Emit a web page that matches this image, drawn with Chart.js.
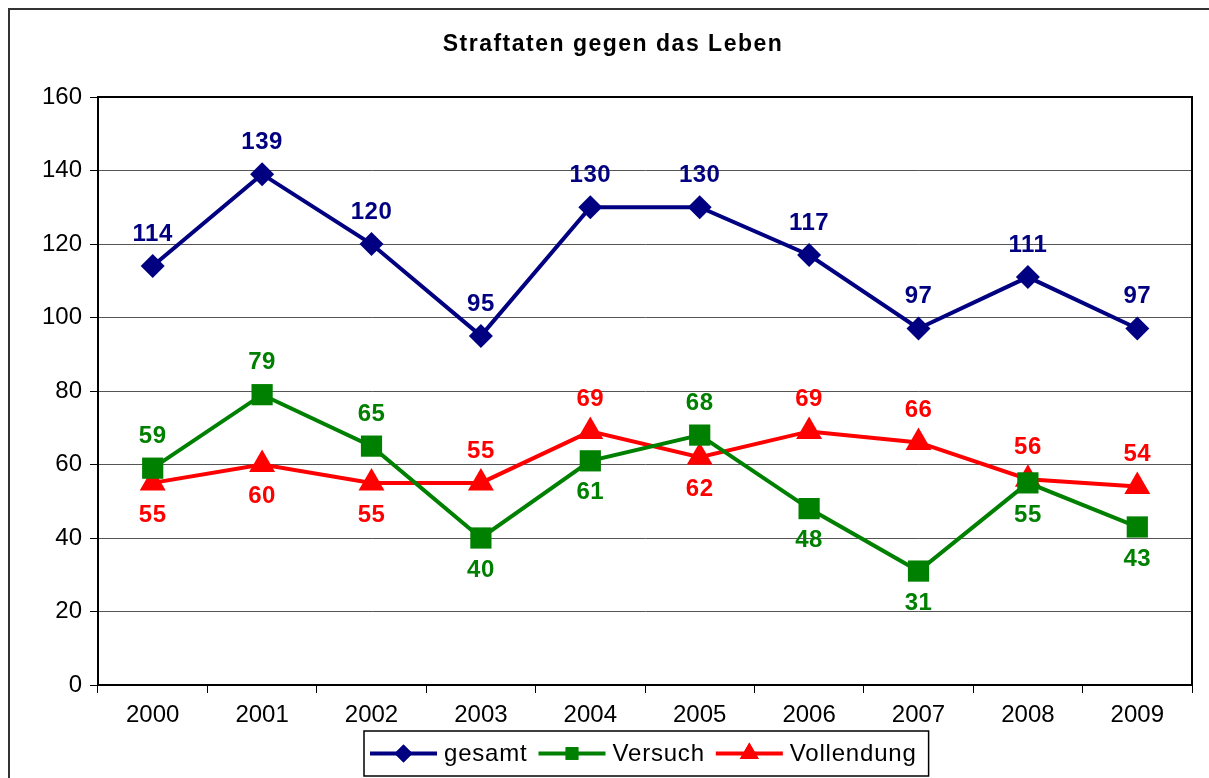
<!DOCTYPE html>
<html>
<head>
<meta charset="utf-8">
<script src="https://cdn.jsdelivr.net/npm/chart.js@4.4.1/dist/chart.umd.min.js"></script>
<style>
  html, body { margin: 0; padding: 0; background: #fff; }
  #wrap { width: 1209px; height: 778px; position: relative; }
</style>
</head>
<body>
<div id="wrap"><canvas id="c" width="1209" height="778"></canvas></div>
<script>
const titleText = 'Straftaten gegen das Leben';
const years = ['2000','2001','2002','2003','2004','2005','2006','2007','2008','2009'];
const gesamt = [114, 139, 120, 95, 130, 130, 117, 97, 111, 97];
const versuch = [59, 79, 65, 40, 61, 68, 48, 31, 55, 43];
const vollendung = [55, 60, 55, 55, 69, 62, 69, 66, 56, 54];
const yTicks = [0, 20, 40, 60, 80, 100, 120, 140, 160];
// label placement: 1 = above the point, -1 = below
const gesamtPos = [1,1,1,1,1,1,1,1,1,1];
const versuchPos = [1,1,1,-1,-1,1,-1,-1,-1,-1];
const vollendungPos = [-1,-1,-1,1,1,-1,1,1,1,1];

const NAVY = '#000080', GREEN = '#008000', RED = '#FF0000';
const FONT = '"Liberation Sans", Arial, sans-serif';

function setLS(ctx, v) { try { ctx.letterSpacing = v; } catch (e) {} }

const framePlugin = {
  id: 'frame',
  beforeDraw(chart) {
    const ctx = chart.ctx;
    ctx.save();
    ctx.fillStyle = '#fff';
    ctx.fillRect(0, 0, chart.width, chart.height);
    ctx.strokeStyle = '#333';
    ctx.lineWidth = 2;
    ctx.beginPath();
    ctx.moveTo(9, chart.height + 5);
    ctx.lineTo(9, 9);
    ctx.lineTo(chart.width + 5, 9);
    ctx.stroke();
    ctx.fillStyle = '#000';
    ctx.font = 'bold 23px ' + FONT;
    ctx.textAlign = 'center';
    ctx.textBaseline = 'middle';
    setLS(ctx, '1.5px');
    ctx.fillText(titleText, 613, 45);
    ctx.restore();
  },
  afterDraw(chart) {
    const ctx = chart.ctx;
    const a = chart.chartArea;
    ctx.save();
    ctx.strokeStyle = '#000';
    ctx.lineWidth = 2;
    ctx.strokeRect(a.left, a.top, a.right - a.left, a.bottom - a.top);
    ctx.restore();
    // legend
    const items = chart.data.datasets;
    ctx.save();
    ctx.font = '24px ' + FONT;
    setLS(ctx, '0.8px');
    const lineLen = 67, gapAfterLine = 7, gapBetween = 11, padL = 6, padR = 12;
    let total = padL + padR;
    const widths = items.map(d => ctx.measureText(d.label).width);
    widths.forEach((w, i) => { total += lineLen + gapAfterLine + w + (i < items.length - 1 ? gapBetween : 0); });
    const boxTop = 731, boxH = 45;
    const left = Math.round(646 - total / 2);
    ctx.strokeStyle = '#000';
    ctx.lineWidth = 1.5;
    ctx.fillStyle = '#fff';
    ctx.fillRect(left, boxTop, total, boxH);
    ctx.strokeRect(left, boxTop, total, boxH);
    let x = left + padL;
    const cy = boxTop + boxH / 2;
    items.forEach((d, i) => {
      ctx.strokeStyle = d.borderColor;
      ctx.lineWidth = 4;
      ctx.beginPath();
      ctx.moveTo(x, cy);
      ctx.lineTo(x + lineLen, cy);
      ctx.stroke();
      ctx.fillStyle = d.borderColor;
      Chart.helpers.drawPoint(ctx, {
        pointStyle: d.pointStyle, radius: d.legendRadius, borderWidth: 0, rotation: 0
      }, x + lineLen / 2, cy);
      ctx.fill();
      x += lineLen + gapAfterLine;
      ctx.fillStyle = '#000';
      ctx.textAlign = 'left';
      ctx.textBaseline = 'middle';
      ctx.fillText(d.label, x, cy + 1);
      x += widths[i] + gapBetween;
    });
    ctx.restore();
  }
};

const labelPlugin = {
  id: 'vlabels',
  afterDatasetsDraw(chart) {
    const ctx = chart.ctx;
    ctx.save();
    ctx.font = 'bold 24px ' + FONT;
    setLS(ctx, '0.5px');
    ctx.textAlign = 'center';
    ctx.textBaseline = 'middle';
    chart.data.datasets.forEach((ds, di) => {
      const meta = chart.getDatasetMeta(di);
      meta.data.forEach((pt, i) => {
        const dir = ds.labelPos[i];
        ctx.fillStyle = ds.borderColor;
        ctx.fillText(String(ds.data[i]), pt.x, pt.y - dir * 32);
      });
    });
    ctx.restore();
  }
};

Chart.defaults.font.family = FONT;

new Chart(document.getElementById('c'), {
  type: 'line',
  data: {
    labels: years,
    datasets: [
      { label: 'gesamt', data: gesamt, labelPos: gesamtPos, borderColor: NAVY, backgroundColor: NAVY,
        pointStyle: 'rectRot', pointRadius: 12, legendRadius: 9, borderWidth: 4, pointBorderWidth: 0 },
      { label: 'Versuch', data: versuch, labelPos: versuchPos, borderColor: GREEN, backgroundColor: GREEN,
        pointStyle: 'rect', pointRadius: 15, legendRadius: 9, borderWidth: 4, pointBorderWidth: 0 },
      { label: 'Vollendung', data: vollendung, labelPos: vollendungPos, borderColor: RED, backgroundColor: RED,
        pointStyle: 'triangle', pointRadius: 15, legendRadius: 11, borderWidth: 4, pointBorderWidth: 0 }
    ]
  },
  options: {
    responsive: false,
    animation: false,
    events: [],
    layout: { padding: { top: 97, right: 17, bottom: 48, left: 0 } },
    elements: { line: { tension: 0 } },
    plugins: { legend: { display: false }, title: { display: false }, tooltip: { enabled: false } },
    scales: {
      x: {
        offset: true,
        grid: { offset: true, drawOnChartArea: false, tickLength: 8, color: '#000', lineWidth: 1 },
        border: { color: '#000', width: 2 },
        ticks: { color: '#000', font: { family: FONT, size: 24 }, padding: 8, maxRotation: 0 },
        afterFit(s) { s.height = 45; }
      },
      y: {
        min: 0, max: 160,
        afterBuildTicks(s) { s.ticks = yTicks.map(v => ({ value: v })); },
        grid: { color: '#555', lineWidth: 1, tickLength: 8, tickColor: '#000' },
        border: { color: '#000', width: 2 },
        ticks: { color: '#000', font: { family: FONT, size: 24 }, padding: 8 },
        afterFit(s) { s.width = 98; }
      }
    }
  },
  plugins: [framePlugin, labelPlugin]
});
</script>
</body>
</html>
